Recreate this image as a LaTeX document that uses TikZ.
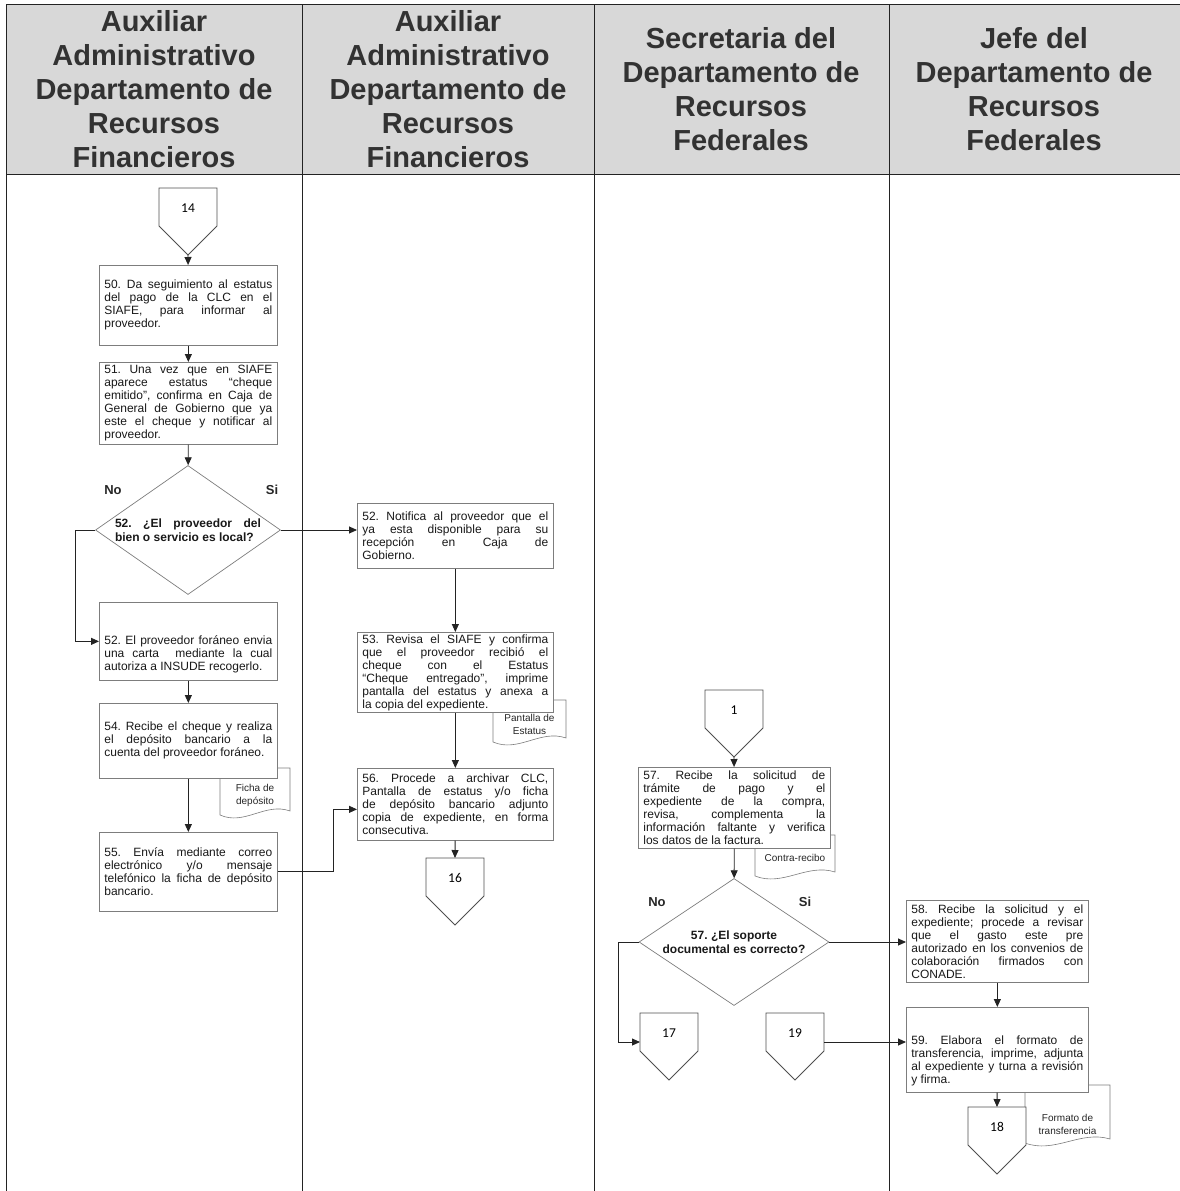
\documentclass[tikz,border=0pt]{standalone}
\usepackage{fontspec}
\setmainfont{Liberation Sans}
\newfontfamily\bodyfont{Liberation Sans}
\newfontfamily\numfont{Carlito}
\usetikzlibrary{arrows.meta,shapes.geometric}

\definecolor{hdrgray}{RGB}{216,216,216}
\definecolor{ink}{RGB}{35,35,35}
\definecolor{edge}{RGB}{125,125,125}
\definecolor{hdrtext}{RGB}{50,50,50}

\newcommand\loosepar{\frenchspacing\tolerance=9999\relax\hbadness=10000\relax}
% lowers the text block of a box: extra height given to its first line
\newcommand\dropby[1]{\rule{0pt}{#1}}

\tikzset{
  lane/.style={draw=ink,line width=0.9pt},
  hdr/.style={font=\fontsize{29}{34}\selectfont\bfseries,text=hdrtext,align=center,inner sep=0pt},
  stepbox/.style={draw=edge,line width=0.7pt,fill=white,anchor=north west,
     font=\bodyfont\fontsize{12}{13}\selectfont\loosepar,
     text=black!90,align=justify,inner xsep=5pt,inner ysep=2pt},
  laneA/.style={stepbox,minimum width=178pt,text width=168pt},
  laneB/.style={stepbox,minimum width=196pt,text width=186pt},
  laneC/.style={stepbox,minimum width=192pt,text width=182pt},
  laneD/.style={stepbox,minimum width=182pt,text width=172pt},
  decision/.style={diamond,draw=edge,line width=0.7pt,fill=white,inner sep=0pt},
  qtext/.style={font=\bodyfont\bfseries\fontsize{12}{14}\selectfont\loosepar,text=black!90,inner sep=0pt},
  yesno/.style={font=\bfseries\fontsize{13}{15}\selectfont,text=black!85,inner sep=0pt},
  linkshape/.style={draw=ink!80,line width=0.8pt,fill=white},
  pagenum/.style={font=\numfont\fontsize{13.5}{15}\selectfont,inner sep=0pt},
  docline/.style={draw=edge,line width=0.6pt,fill=white},
  doctext/.style={font=\bodyfont\fontsize{10}{13}\selectfont,align=center,inner sep=0pt,text=black!85},
  arr/.style={draw=ink,line width=0.9pt,-{Triangle[length=8pt,width=7pt]}},
}

% off-page connector: name, centre x, top y, number
\newcommand\offpage[4]{%
  \draw[linkshape] (#2-29,#3) -- (#2+29,#3) -- (#2+29,#3+38) -- (#2,#3+67) -- (#2-29,#3+38) -- cycle;
  \node[pagenum] (#1) at (#2,#3+20) {#4};
  \coordinate (#1-top) at (#2,#3);
  \coordinate (#1-tip) at (#2,#3+67);
  \coordinate (#1-w) at (#2-29,#3+29);
  \coordinate (#1-e) at (#2+29,#3+29);
}
% document sheet with wavy lower edge: name, x0, y0, x1, y1, text y, text
\newcommand\docsheet[7]{%
  \draw[docline] (#2,#3) -- (#4,#3) -- (#4,#5-4)
    .. controls ({#4-0.35*(#4-#2)},#5-13) and ({#2+0.35*(#4-#2)},#5+11) .. (#2,#5) -- cycle;
  \node[doctext] (#1) at ({(#2+#4)/2},#6) {#7};
}

\begin{document}
\begin{tikzpicture}[x=1pt,y=-1pt]
\useasboundingbox (0,0) rectangle (1180,1191);

% swimlane table
\fill[hdrgray] (6,4) rectangle (1180,174);
\draw[lane] (6,1191) -- (6,4) -- (1180,4);
\draw[lane] (6,174) -- (1180,174);
\foreach \xx in {302,594,889} \draw[lane] (\xx,4) -- (\xx,1191);

\node[hdr] (h1) at (154,89) {Auxiliar\\Administrativo\\Departamento de\\Recursos\\Financieros};
\node[hdr] (h2) at (448,89) {Auxiliar\\Administrativo\\Departamento de\\Recursos\\Financieros};
\node[hdr] (h3) at (741,89) {Secretaria del\\Departamento de\\Recursos\\Federales};
\node[hdr] (h4) at (1034,89) {Jefe del\\Departamento de\\Recursos\\Federales};

% supporting documents (drawn first, partly covered by their boxes)
\docsheet{doc54}{220}{768}{290}{815}{795}{Ficha de\\depósito}
\docsheet{doc53}{493}{700}{566}{742}{724}{Pantalla de\\Estatus}
\docsheet{doc57}{755}{835}{835}{876}{858}{Contra-recibo}
\docsheet{doc59}{1025}{1085}{1110}{1143}{1124}{Formato de\\transferencia}

% lane 1
\offpage{c14}{188}{188}{14}
\node[laneA,minimum height=80pt] (b50) at (99,265)
  {50. Da seguimiento al estatus\linebreak del pago de la CLC en el\linebreak SIAFE, para informar al\linebreak proveedor.};
\node[laneA,minimum height=82pt] (b51) at (99,362)
  {51. Una vez que en SIAFE\linebreak aparece estatus “cheque\linebreak emitido”, confirma en Caja de\linebreak General de Gobierno que ya\linebreak este el cheque y notificar al\linebreak proveedor.};
\node[decision,minimum width=185pt,minimum height=129pt] (d52) at (188,530) {};
\node[qtext,text width=146pt,align=justify] (d52t) at (d52) {52. ¿El proveedor del\linebreak bien o servicio es local?};
\node[yesno] (no52) at (113,490) {No};
\node[yesno] (si52) at (272,490) {Si};
\node[laneA,minimum height=78pt] (b52b) at (99,602)
  {\dropby{34pt}52. El proveedor foráneo envia\linebreak una carta \ mediante la cual\linebreak autoriza a INSUDE recogerlo.};
\node[laneA,minimum height=75pt] (b54) at (99,703)
  {54. Recibe el cheque y realiza\linebreak el depósito bancario a la\linebreak cuenta del proveedor foráneo.};
\node[laneA,minimum height=79pt] (b55) at (99,832)
  {55. Envía mediante correo\linebreak electrónico y/o mensaje\linebreak telefónico la ficha de depósito\linebreak bancario.};

% lane 2
\node[laneB,minimum height=65pt] (b52n) at (357,503)
  {52. Notifica al proveedor que el\linebreak ya esta disponible para su\linebreak recepción en Caja de\linebreak Gobierno.};
\node[laneB,minimum height=79pt] (b53) at (357,632)
  {53. Revisa el SIAFE y confirma\linebreak que el proveedor recibió el\linebreak cheque con el Estatus\linebreak “Cheque entregado”, imprime\linebreak pantalla del estatus y anexa a\linebreak la copia del expediente.};
\node[laneB,minimum height=72pt] (b56) at (357,768)
  {56. Procede a archivar CLC,\linebreak Pantalla de estatus y/o ficha\linebreak de depósito bancario adjunto\linebreak copia de expediente, en forma\linebreak consecutiva.};
\offpage{c16}{455}{858}{16}

% lane 3
\offpage{c1}{734}{690}{1}
\node[laneC,minimum height=81pt] (b57) at (638,767)
  {57. Recibe la solicitud de\linebreak trámite de pago y el\linebreak expediente de la compra,\linebreak revisa, complementa la\linebreak información faltante y verifica\linebreak los datos de la factura.};
\node[decision,minimum width=190pt,minimum height=127pt] (d57) at (734,942) {};
\node[qtext,align=center] (d57t) at (d57) {57. ¿El soporte\\documental es correcto?};
\node[yesno] (no57) at (657,902) {No};
\node[yesno] (si57) at (805,902) {Si};
\offpage{c17}{669}{1013}{17}
\offpage{c19}{795}{1013}{19}

% lane 4
\node[laneD,minimum height=82pt] (b58) at (906,900)
  {58. Recibe la solicitud y el\linebreak expediente; procede a revisar\linebreak que el gasto este pre\linebreak autorizado en los convenios de\linebreak colaboración firmados con\linebreak CONADE.};
\node[laneD,minimum height=85pt] (b59) at (906,1007)
  {\dropby{30pt}59. Elabora el formato de\linebreak transferencia, imprime, adjunta\linebreak al expediente y turna a revisión\linebreak y firma.};
\offpage{c18}{997}{1107}{18}

% flow
\draw[arr] (c14-tip) -- (b50);
\draw[arr] (b50) -- (b51);
\draw[arr] (b51) -- (d52);
\draw[arr] (d52.east) -- (d52.east -| b52n.west);
\draw[arr] (d52.west) -- ++(-20,0) |- (b52b.west);
\draw[arr] (b52b) -- (b54);
\draw[arr] (b54) -- (b55);
\draw[arr] (b55.east) -- ++(56,0) |- ([yshift=-5pt]b56.west);
\draw[arr] (b52n) -- (b53);
\draw[arr] (b53) -- (b56);
\draw[arr] (b56) -- (c16-top);
\draw[arr] (c1-tip) -- (b57);
\draw[arr] (b57) -- (d57);
\draw[arr] (d57.east) -- (d57.east -| b58.west);
\draw[arr] (d57.west) -- ++(-20,0) |- (c17-w);
\draw[arr] (c19-e) -- (c19-e -| b59.west);
\draw[arr] (b58) -- (b59);
\draw[arr] (b59) -- (c18-top);
\end{tikzpicture}
\end{document}
